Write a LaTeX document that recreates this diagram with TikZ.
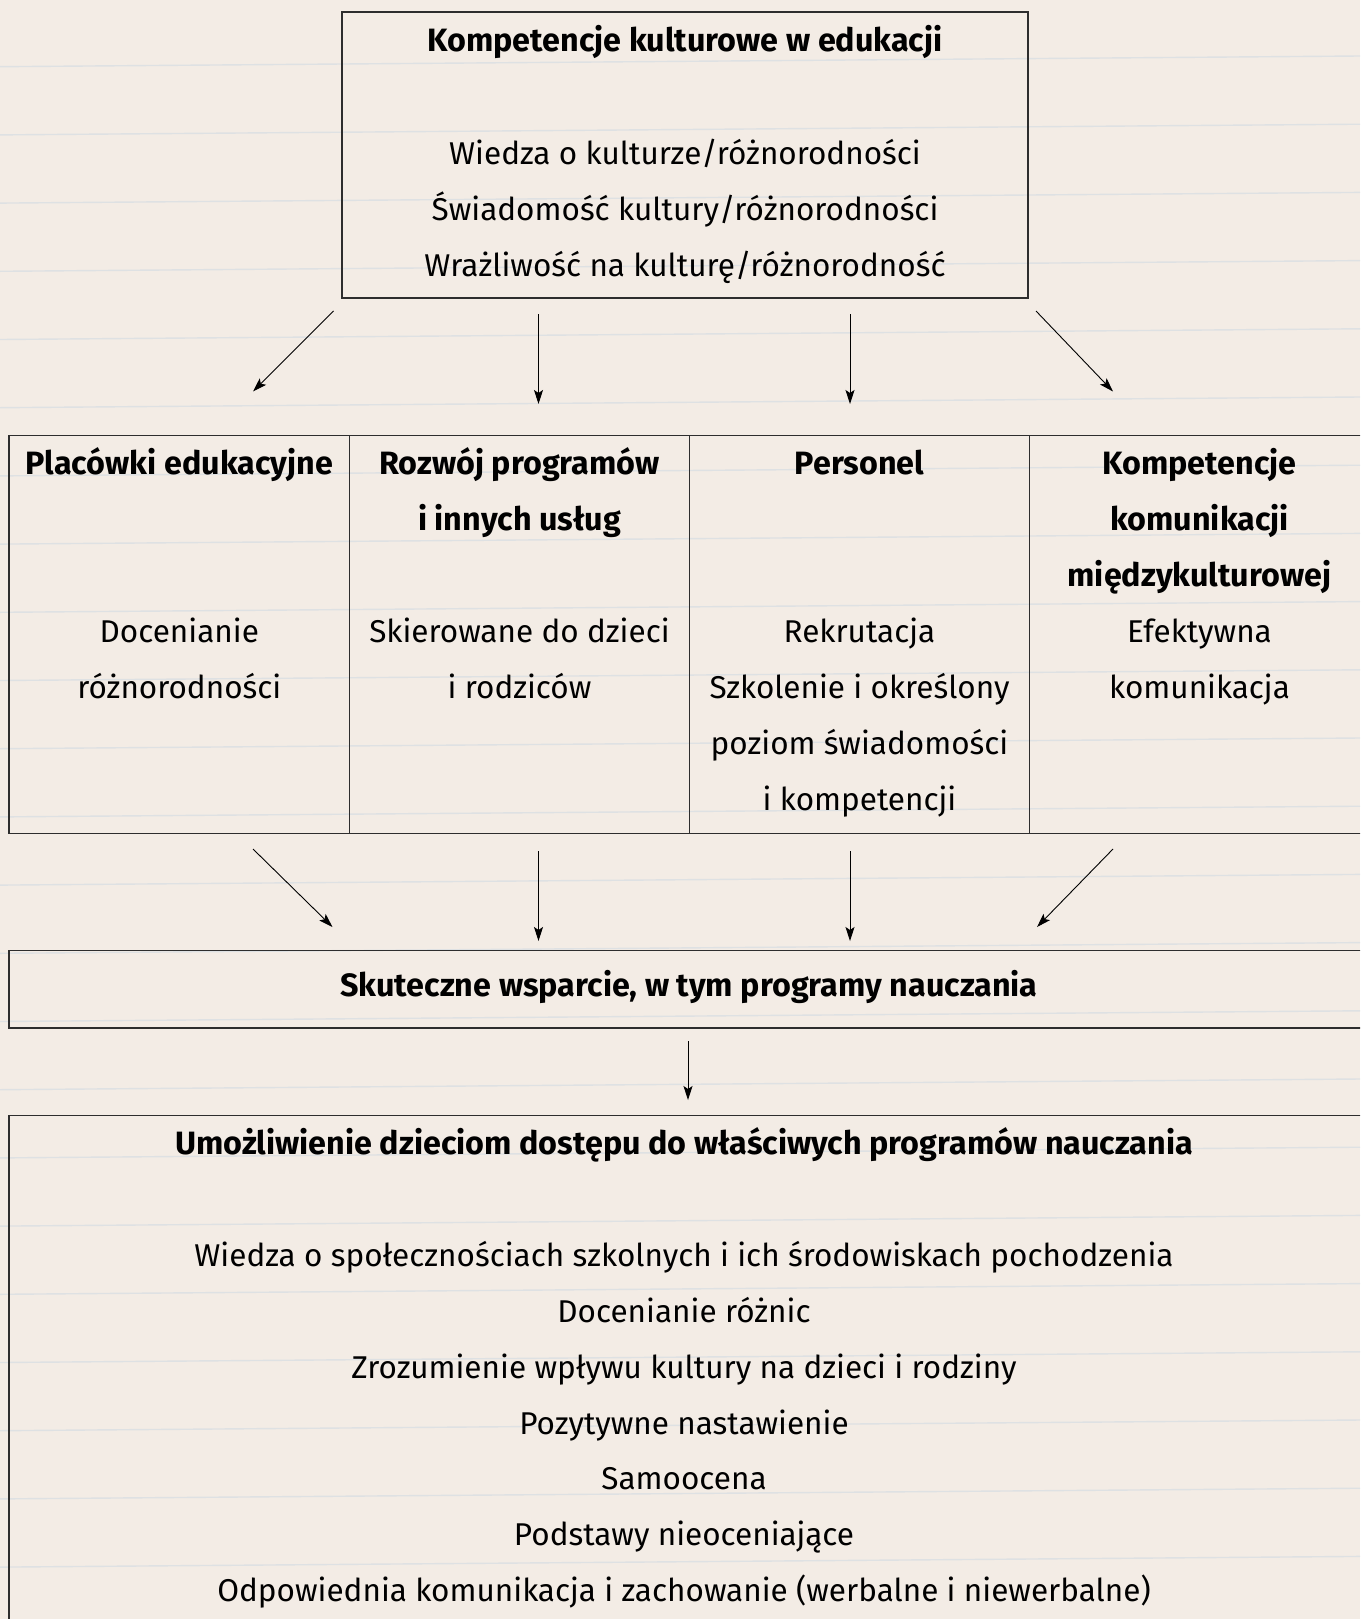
\documentclass[tikz,border=0pt]{standalone}
\usepackage{fontspec}
\setmainfont{Fira Sans}
\usetikzlibrary{arrows.meta}
\definecolor{paper}{RGB}{243,236,229}
\definecolor{ruling}{RGB}{222,225,227}
\definecolor{boxline}{RGB}{45,45,45}
\begin{document}
\begin{tikzpicture}[x=1pt,y=-1pt,
  frame/.style={draw=boxline, line width=1.4pt, inner sep=0pt, outer sep=0pt, anchor=north west},
  flow/.style={draw=black, line width=0.9pt, -{Stealth[length=14pt,width=9pt,inset=3pt]}},
  txt/.style={anchor=base, inner sep=0pt, font=\fontsize{31.5}{36}\selectfont},
  head/.style={anchor=base, inner sep=0pt, font=\fontsize{32.3}{36}\selectfont\bfseries},
  rule/.style={draw=ruling, line width=1.4pt}]
\useasboundingbox (0,0) rectangle (1360,1619);
\clip (0,0) rectangle (1360,1619);
\fill[paper] (0,0) rectangle (1360,1619);
% ruled notebook paper
\foreach \k in {0,...,23}
  \draw[rule] (0,{66.7+68.2*\k}) -- (1360,{56+68.2*\k});

% boxes
\node[frame, minimum width=686pt, minimum height=286pt] (top) at (342,12) {};
\node[frame, minimum width=340.5pt, minimum height=397.5pt] (colA) at (9,435.7) {};
\node[frame, minimum width=340pt, minimum height=397.5pt] (colB) at (349.5,435.7) {};
\node[frame, minimum width=340pt, minimum height=397.5pt] (colC) at (689.5,435.7) {};
\node[frame, minimum width=340pt, minimum height=397.5pt] (colD) at (1029.5,435.7) {};
\node[frame, minimum width=1361pt, minimum height=77.3pt] (support) at (9,950.7) {};
\node[frame, minimum width=1361pt, minimum height=600pt] (access) at (9,1115.7) {};

% top box text
\node[head] (topT) at (685,51.7) {Kompetencje kulturowe w edukacji};
\node[txt] (top1) at (685,164) {Wiedza o kulturze/różnorodności};
\node[txt] (top2) at (685,220) {Świadomość kultury/różnorodności};
\node[txt] (top3) at (685,276) {Wrażliwość na kulturę/różnorodność};

% column A
\node[head] (aT) at (179.3,474.5) {Placówki edukacyjne};
\node[txt] (a1) at (179.3,642.5) {Docenianie};
\node[txt] (a2) at (179.3,698.3) {różnorodności};
% column B
\node[head] (bT1) at (519.5,474.5) {Rozwój programów};
\node[head] (bT2) at (519.5,530.3) {i innych usług};
\node[txt] (b1) at (519.5,642.5) {Skierowane do dzieci};
\node[txt] (b2) at (519.5,698.3) {i rodziców};
% column C
\node[head] (cT) at (859.5,474.5) {Personel};
\node[txt] (c1) at (859.5,642.5) {Rekrutacja};
\node[txt] (c2) at (859.5,698.3) {Szkolenie i określony};
\node[txt] (c3) at (859.5,754) {poziom świadomości};
\node[txt] (c4) at (859.5,810) {i kompetencji};
% column D
\node[head] (dT1) at (1199.5,474.5) {Kompetencje};
\node[head] (dT2) at (1199.5,530.3) {komunikacji};
\node[head] (dT3) at (1199.5,586) {międzykulturowej};
\node[txt] (d1) at (1199.5,642.5) {Efektywna};
\node[txt] (d2) at (1199.5,698.3) {komunikacja};

% support box
\node[head] (supT) at (689,996.7) {Skuteczne wsparcie, w tym programy nauczania};

% access box
\node[head] (accT) at (684,1154.3) {Umożliwienie dzieciom dostępu do właściwych programów nauczania};
\node[txt] (acc1) at (684,1266.7) {Wiedza o społecznościach szkolnych i ich środowiskach pochodzenia};
\node[txt] (acc2) at (684,1322.5) {Docenianie różnic};
\node[txt] (acc3) at (684,1378.3) {Zrozumienie wpływu kultury na dzieci i rodziny};
\node[txt] (acc4) at (684,1434) {Pozytywne nastawienie};
\node[txt] (acc5) at (684,1489.8) {Samoocena};
\node[txt] (acc6) at (684,1545.6) {Podstawy nieoceniające};
\node[txt] (acc7) at (684,1601.4) {Odpowiednia komunikacja i zachowanie (werbalne i niewerbalne)};

% arrow end points
\coordinate (s1) at (333.6,311);  \coordinate (e1) at (253,391.5);
\coordinate (s2) at (538.5,314);  \coordinate (e2) at (538.5,404);
\coordinate (s3) at (850,314);    \coordinate (e3) at (850,404);
\coordinate (s4) at (1036,311);   \coordinate (e4) at (1113,391.5);
\coordinate (u1) at (253,849);    \coordinate (v1) at (332.5,927);
\coordinate (u2) at (538.5,851);  \coordinate (v2) at (538.5,941);
\coordinate (u3) at (850,851);    \coordinate (v3) at (850,941);
\coordinate (u4) at (1113,849);   \coordinate (v4) at (1037,927);
\coordinate (w1) at (688,1041);   \coordinate (w2) at (688,1100);

\foreach \a/\b in {s1/e1,s2/e2,s3/e3,s4/e4,u1/v1,u2/v2,u3/v3,u4/v4,w1/w2}
  \draw[flow] (\a) -- (\b);
\end{tikzpicture}
\end{document}
